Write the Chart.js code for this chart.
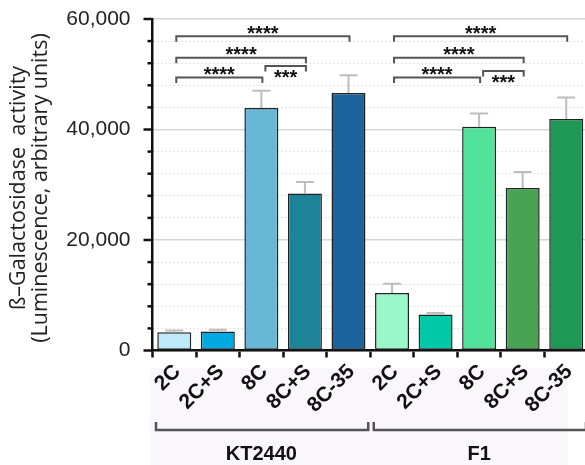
<!DOCTYPE html>
<html>
<head>
<meta charset="utf-8">
<script src="https://cdn.jsdelivr.net/npm/chart.js@4.4.1/dist/chart.umd.min.js"></script>
<style>
  html, body { margin: 0; padding: 0; background: #fff; overflow: hidden; }
  #wrap { position: relative; width: 585px; height: 465px; overflow: hidden; }
  canvas { display: block; }
</style>
</head>
<body>
<div id="wrap"><canvas id="chart" width="588" height="465"></canvas></div>
<script>
// data
const categories = ['2C', '2C+S', '8C', '8C+S', '8C-35', '2C', '2C+S', '8C', '8C+S', '8C-35'];
const groups = ['KT2440', 'F1'];
const groupSize = 5;
const means = [3300, 3450, 43900, 28400, 46600, 10400, 6500, 40500, 29400, 41900];
const errTop = [3600, 3750, 47000, 30500, 49800, 12100, 6800, 42900, 32300, 45800];
const barColors = ['#bde9f8', '#00a9e2', '#66b8d6', '#1c8398', '#1b649d',
                   '#98f8c8', '#00c9a8', '#53e29a', '#48a452', '#1d9855'];
const yMax = 60000;
const yMajorStep = 20000;
const yMinorStep = 4000;

// significance brackets
const sigFrom  = [0, 0, 0, 2, 5, 5, 5, 7];
const sigTo    = [4, 3, 2, 3, 9, 8, 7, 8];
const sigLevel = [56900, 53000, 49400, 51500, 56900, 53000, 49400, 50600];
const sigText  = ['****', '****', '****', '***', '****', '****', '****', '***'];
const sigBelow = [false, false, false, true, false, false, false, true];

const titleLines = ['ß–Galactosidase  activity', '(Luminescence, arbitrary units)'];

function bracket(c, x1, x2, y, dir, len) {
    c.beginPath();
    c.moveTo(x1, y + dir * len);
    c.lineTo(x1, y);
    c.lineTo(x2, y);
    c.lineTo(x2, y + dir * len);
    c.stroke();
}

const extras = {
    id: 'extras',
    beforeDraw(chart) {
        const c = chart.ctx;
        c.save();
        c.fillStyle = '#f9f7fc';
        c.fillRect(150, 368, 418, 97);
        c.restore();
    },
    afterDatasetsDraw(chart) {
        const c = chart.ctx, x = chart.scales.x, y = chart.scales.y;
        c.save();
        c.strokeStyle = '#bdbdbd';
        c.lineWidth = 2;
        errTop.forEach((v, i) => {
            const px = x.getPixelForValue(i);
            const top = y.getPixelForValue(v), base = y.getPixelForValue(means[i]);
            c.beginPath();
            c.moveTo(px, base);
            c.lineTo(px, top);
            c.moveTo(px - 9, top);
            c.lineTo(px + 9, top);
            c.stroke();
        });
        c.restore();
    },
    afterDraw(chart) {
        const c = chart.ctx, x = chart.scales.x, y = chart.scales.y;
        const ax = chart.chartArea.left;
        c.save();

        // y ticks, major and minor
        c.strokeStyle = '#111';
        c.lineWidth = 2.5;
        for (let v = 0; v <= yMax; v += yMinorStep) {
            const py = y.getPixelForValue(v);
            const len = v % yMajorStep === 0 ? 9 : 5;
            c.beginPath();
            c.moveTo(ax - len, py);
            c.lineTo(ax, py);
            c.stroke();
        }

        // significance brackets
        c.strokeStyle = '#555';
        c.lineWidth = 2;
        c.fillStyle = '#111';
        c.font = 'bold 20px "Liberation Sans", Arial, sans-serif';
        c.textAlign = 'center';
        c.textBaseline = 'alphabetic';
        sigFrom.forEach((f, i) => {
            const x1 = x.getPixelForValue(f) + (sigBelow[i] ? 4 : 2);
            const x2 = x.getPixelForValue(sigTo[i]) + 1;
            const py = y.getPixelForValue(sigLevel[i]);
            bracket(c, x1, x2, py, 1, 5.5);
            const ty = sigBelow[i] ? py + 18.5 : py + 3.5;
            c.fillText(sigText[i], (x1 + x2) / 2, ty);
        });

        // group brackets and labels
        const half = (x.getPixelForValue(1) - x.getPixelForValue(0)) / 2;
        c.lineWidth = 2.5;
        c.font = 'bold 20px "Liberation Sans", Arial, sans-serif';
        groups.forEach((g, k) => {
            const a = x.getPixelForValue(k * groupSize) - half + 3.5;
            const b = x.getPixelForValue(k * groupSize + groupSize - 1) + half - 2;
            bracket(c, a, b, 430, -1, 8);
            const mid = (x.getPixelForValue(k * groupSize) + x.getPixelForValue(k * groupSize + groupSize - 1)) / 2;
            c.fillText(g, mid, 460);
        });

        // y-axis title
        c.font = '21.5px "Open Sans", sans-serif';
        c.fillStyle = '#222';
        const cy = 188;
        [25, 47].forEach((bx, i) => {
            c.save();
            c.translate(bx, cy);
            c.rotate(-Math.PI / 2);
            c.fillText(titleLines[i], 0, 0);
            c.restore();
        });
        c.restore();
    }
};

const ctx = document.getElementById('chart').getContext('2d');
new Chart(ctx, {
    type: 'bar',
    data: {
        labels: categories,
        datasets: [{
            data: means,
            backgroundColor: barColors,
            borderColor: '#222',
            borderWidth: 1.5,
            borderSkipped: false,
            categoryPercentage: 1,
            barPercentage: 0.78
        }]
    },
    options: {
        responsive: false,
        animation: false,
        layout: { padding: { top: 19, left: 0, right: 0, bottom: 0 } },
        plugins: { legend: { display: false }, tooltip: { enabled: false } },
        scales: {
            x: {
                afterFit(scale) { scale.height = 465 - 350.5; },
                grid: { drawOnChartArea: false, tickLength: 7, tickWidth: 2.5, tickColor: '#111' },
                border: { color: '#111', width: 2.5 },
                ticks: {
                    autoSkip: false, maxRotation: 45, minRotation: 45, padding: 2, labelOffset: 3,
                    color: '#111',
                    font: { family: '"Liberation Sans", Arial, sans-serif', size: 21, weight: 'bold' }
                }
            },
            y: {
                min: 0, max: yMax,
                afterFit(scale) { scale.width = 152.5; },
                grid: {
                    drawTicks: true, tickLength: 22, tickColor: 'rgba(0,0,0,0)',
                    color: c => (c.tick && c.tick.value % yMajorStep === 0) ? '#d6d6d6' : '#dadada',
                    lineWidth: c => (c.tick && c.tick.value % yMajorStep === 0) ? 1.5 : 1
                },
                border: {
                    color: '#111', width: 2.5,
                    dash: c => (c.tick && c.tick.value % yMajorStep !== 0) ? [1.5, 2.5] : []
                },
                ticks: {
                    stepSize: yMinorStep, maxTicksLimit: 20, autoSkip: false, padding: 0, color: '#222',
                    font: { family: '"Liberation Sans", Arial, sans-serif', size: 21 },
                    callback: v => v % yMajorStep === 0 ? v.toLocaleString('en-US') : ''
                }
            }
        }
    },
    plugins: [extras]
});
</script>
</body>
</html>
